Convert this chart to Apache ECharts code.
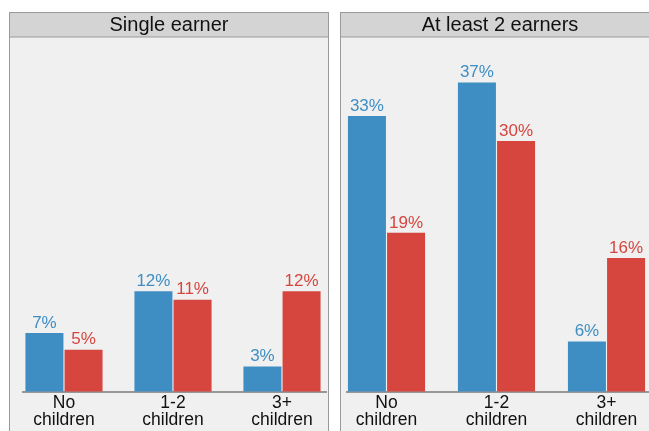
<!DOCTYPE html>
<html>
<head>
<meta charset="utf-8">
<script src="https://cdn.jsdelivr.net/npm/echarts@6/dist/echarts.min.js"></script>
<style>
  html, body { margin: 0; padding: 0; background: #fff; }
  #chart { width: 649px; height: 431px; }
</style>
</head>
<body>
<div id="chart"></div>
<script>
  const FONT = '"Liberation Sans", Arial, sans-serif'
  const BLUE = '#3e8ec4'
  const RED = '#d6463f'

  const panelTitles = ['Single earner', 'At least 2 earners']
  const categories = ['No\nchildren', '1-2\nchildren', '3+\nchildren']
  const singleBlue = [7, 12, 3]
  const singleRed = [5, 11, 12]
  const dualBlue = [33, 37, 6]
  const dualRed = [19, 30, 16]

  // panel frames (x of left border, width)
  const panels = [{x: 9.5, w: 319}, {x: 340.5, w: 319}]

  function barSeries(name, data, color, idx) {
    return {
      name: name,
      type: 'bar',
      xAxisIndex: idx,
      yAxisIndex: idx,
      data: data,
      barWidth: 38,
      barGap: '3%',
      clip: false,
      itemStyle: {color: color},
      label: {
        show: true,
        position: 'top',
        distance: 1.5,
        formatter: '{c}%',
        color: color,
        fontFamily: FONT,
        fontSize: 17
      },
      z: 5
    }
  }

  const graphics = []
  panels.forEach((p, i) => {
    graphics.push({
      type: 'rect', z: 0,
      shape: {x: p.x, y: 12.5, width: p.w, height: 440},
      style: {fill: '#eff0ef', stroke: '#9a9a9a', lineWidth: 1}
    })
    graphics.push({
      type: 'rect', z: 1,
      shape: {x: p.x, y: 12.5, width: p.w, height: 24.5},
      style: {fill: '#d4d4d4', stroke: '#9a9a9a', lineWidth: 1}
    })
    graphics.push({
      type: 'text', z: 2,
      x: p.x + p.w / 2, y: 25,
      style: {
        text: panelTitles[i],
        font: '20px ' + FONT,
        fill: '#111',
        align: 'center',
        verticalAlign: 'middle'
      }
    })
  })
  // baselines
  graphics.push({
    type: 'line', z: 3,
    shape: {x1: 22, y1: 392, x2: 327, y2: 392},
    style: {stroke: '#7a7a7a', lineWidth: 1.5}
  })
  graphics.push({
    type: 'line', z: 3,
    shape: {x1: 346, y1: 392, x2: 660, y2: 392},
    style: {stroke: '#7a7a7a', lineWidth: 1.5}
  })

  function xAxis(idx) {
    return {
      type: 'category',
      gridIndex: idx,
      data: categories,
      boundaryGap: false,
      axisLine: {show: false},
      axisTick: {show: false},
      axisLabel: {
        color: '#111',
        fontFamily: FONT,
        fontSize: 17.5,
        lineHeight: 17,
        margin: 3,
        interval: 0,
        showMinLabel: true,
        showMaxLabel: true
      }
    }
  }
  function yAxis(idx) {
    return {
      type: 'value',
      gridIndex: idx,
      min: 0,
      max: 40,
      show: false,
      splitLine: {show: false}
    }
  }

  const myChart = echarts.init(document.getElementById('chart'), null, {renderer: 'canvas'})
  myChart.setOption({
    animation: false,
    backgroundColor: '#fff',
    graphic: graphics,
    grid: [
      {left: 64, width: 218, top: 57.5, bottom: 39.5},
      {left: 386.5, width: 220, top: 57.5, bottom: 39.5}
    ],
    xAxis: [xAxis(0), xAxis(1)],
    yAxis: [yAxis(0), yAxis(1)],
    series: [
      barSeries('Blue', singleBlue, BLUE, 0),
      barSeries('Red', singleRed, RED, 0),
      barSeries('Blue', dualBlue, BLUE, 1),
      barSeries('Red', dualRed, RED, 1)
    ]
  })
</script>
</body>
</html>
